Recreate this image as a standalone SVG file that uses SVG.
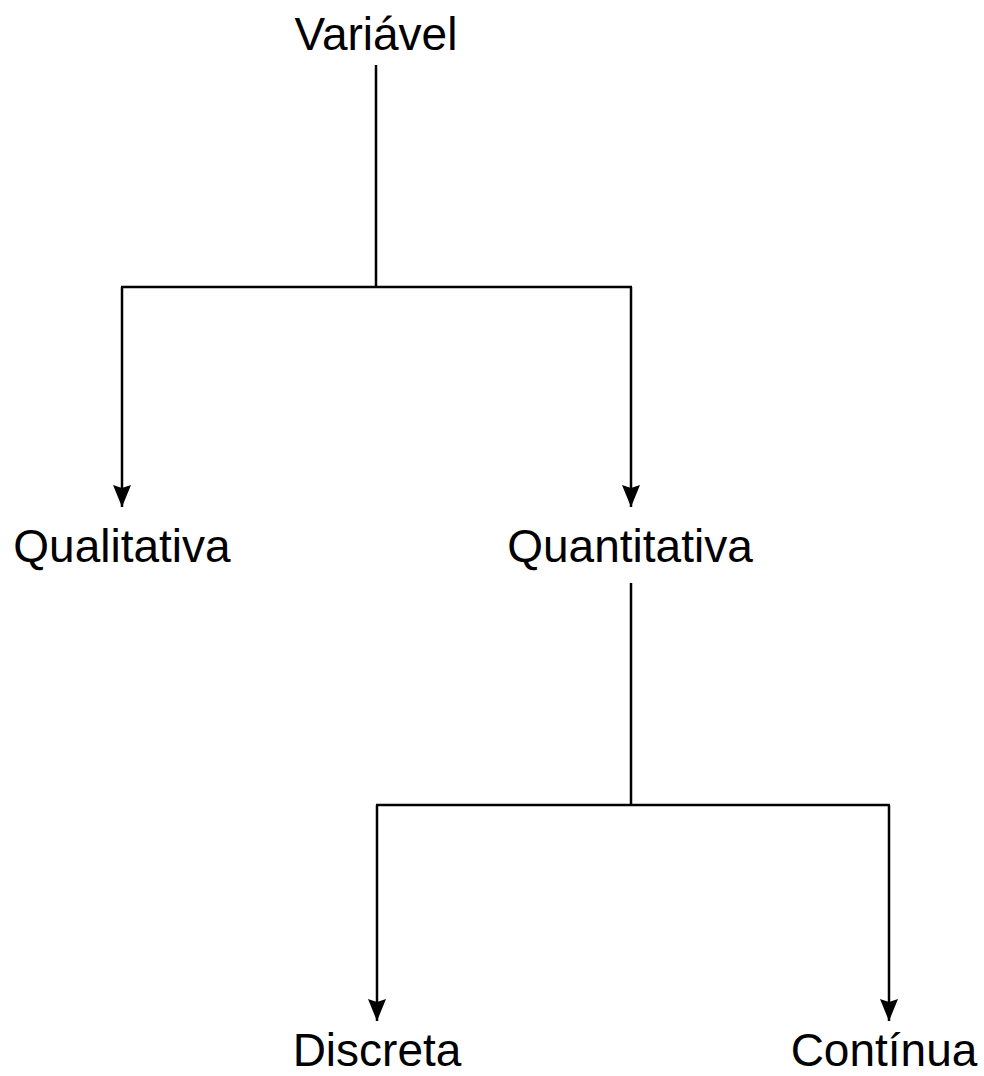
<svg xmlns="http://www.w3.org/2000/svg" width="984" height="1076" viewBox="0 0 984 1076">
<style>
text{font-family:"Liberation Sans",Arial,sans-serif;font-size:46px;fill:#000;text-anchor:middle}
.c{stroke:#000;stroke-width:2.5;fill:none}
</style>
<defs>
<marker id="ah" viewBox="0 0 22 18" refX="22" refY="9" markerWidth="22" markerHeight="18" markerUnits="userSpaceOnUse" orient="auto">
<path d="M0,0 L22,9 L0,18 L3,9 Z" fill="#000"/>
</marker>
</defs>
<rect width="984" height="1076" fill="#fff"/>
<g id="connectors">
<path class="c" d="M376,65 V287"/>
<path class="c" d="M121,287 H632"/>
<path class="c" d="M122,287 V507" marker-end="url(#ah)"/>
<path class="c" d="M631,287 V507" marker-end="url(#ah)"/>
<path class="c" d="M631,583 V805"/>
<path class="c" d="M376,805 H890"/>
<path class="c" d="M377,805 V1021" marker-end="url(#ah)"/>
<path class="c" d="M889,805 V1021" marker-end="url(#ah)"/>
</g>
<g id="variavel"><text x="376" y="50">Variável</text></g>
<g id="qualitativa"><text x="122" y="562">Qualitativa</text></g>
<g id="quantitativa"><text x="630" y="562">Quantitativa</text></g>
<g id="discreta"><text x="377" y="1066">Discreta</text></g>
<g id="continua"><text x="884" y="1066">Contínua</text></g>
</svg>
